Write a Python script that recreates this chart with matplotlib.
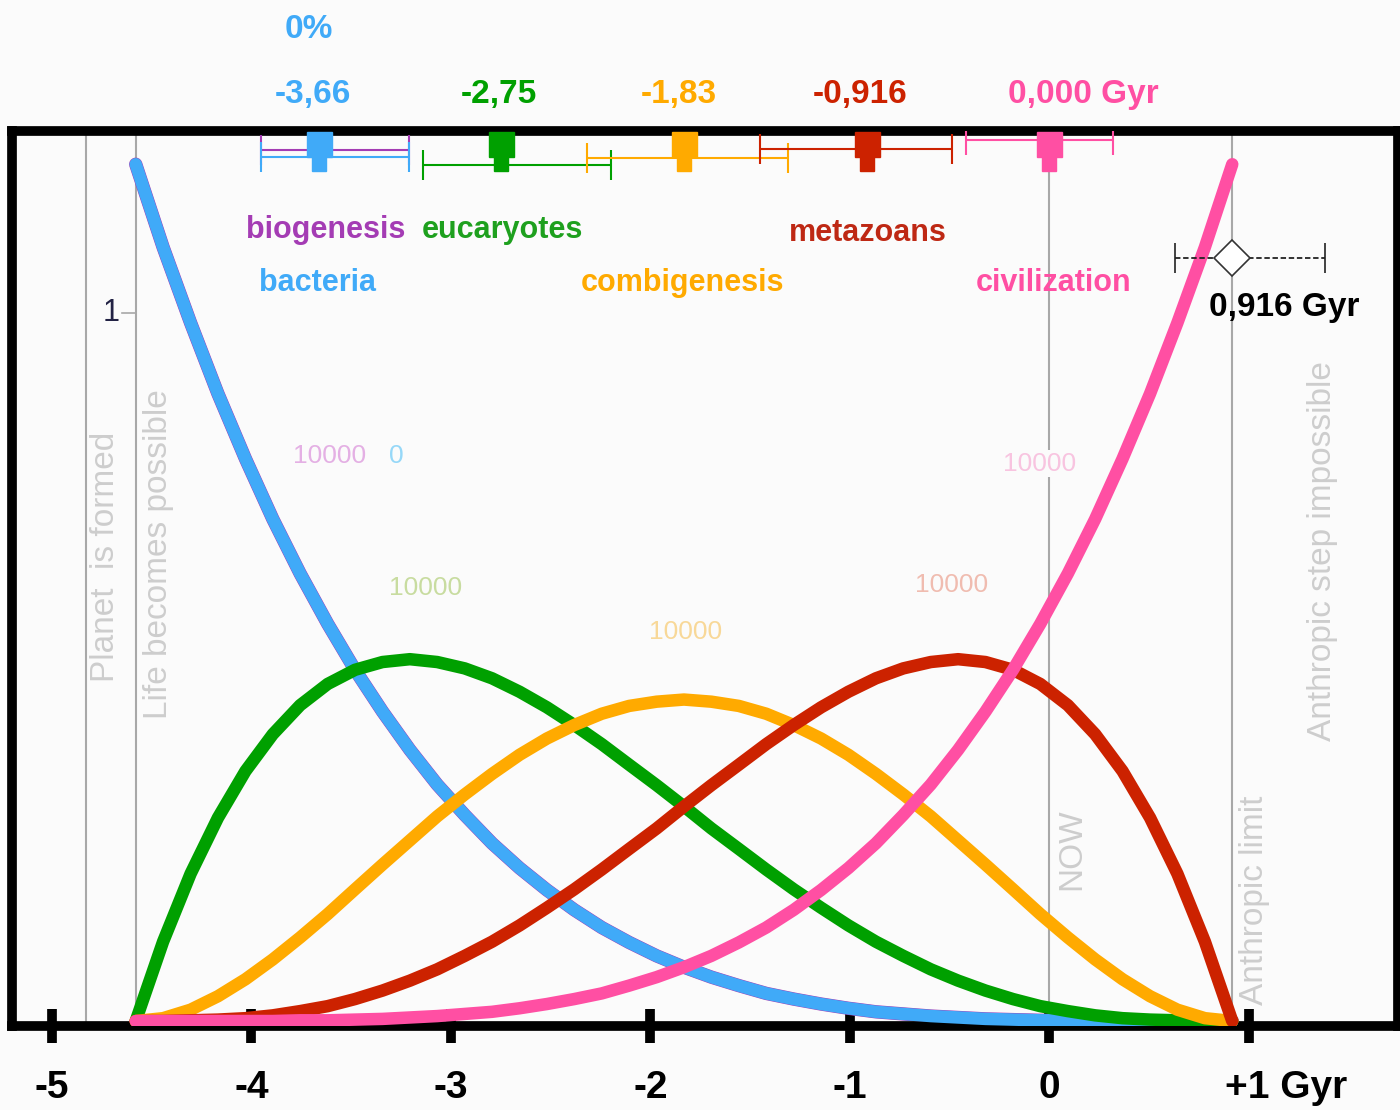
import numpy as np
import matplotlib.pyplot as plt
from matplotlib.transforms import ScaledTranslation

plt.rcParams['font.family'] = ['Liberation Sans', 'DejaVu Sans']

# time in Gyr relative to now
x_gyr = [-4.580, -4.443, -4.305, -4.168, -4.030, -3.893, -3.756, -3.618, -3.481, -3.343,
         -3.206, -3.069, -2.931, -2.794, -2.656, -2.519, -2.382, -2.244, -2.107, -1.969,
         -1.832, -1.695, -1.557, -1.420, -1.282, -1.145, -1.008, -0.870, -0.733, -0.595,
         -0.458, -0.321, -0.183, -0.046, 0.092, 0.229, 0.366, 0.504, 0.641, 0.779, 0.916]

# probability density of each hard step over time
bacteria = [1.210, 1.093, 0.986, 0.886, 0.794, 0.709, 0.632, 0.561, 0.496, 0.437,
            0.383, 0.334, 0.291, 0.251, 0.216, 0.185, 0.157, 0.132, 0.111, 0.092,
            0.076, 0.062, 0.050, 0.039, 0.031, 0.024, 0.018, 0.013, 0.010, 0.007,
            0.005, 0.003, 0.002, 0.001, 0.001, 0.000, 0.000, 0.000, 0.000, 0.000, 0.000]
eucaryotes = [0.000, 0.112, 0.208, 0.287, 0.353, 0.405, 0.446, 0.476, 0.496, 0.507,
              0.511, 0.507, 0.498, 0.484, 0.465, 0.443, 0.418, 0.391, 0.362, 0.333,
              0.303, 0.272, 0.243, 0.214, 0.186, 0.160, 0.135, 0.112, 0.092, 0.073,
              0.057, 0.043, 0.031, 0.021, 0.014, 0.008, 0.004, 0.002, 0.001, 0.000, 0.000]
combigenesis = [0.000, 0.004, 0.016, 0.035, 0.059, 0.087, 0.118, 0.151, 0.186, 0.221,
                0.255, 0.289, 0.320, 0.349, 0.376, 0.399, 0.418, 0.434, 0.445, 0.451,
                0.454, 0.451, 0.445, 0.434, 0.418, 0.399, 0.376, 0.349, 0.320, 0.289,
                0.255, 0.221, 0.186, 0.151, 0.118, 0.087, 0.059, 0.035, 0.016, 0.004, 0.000]
metazoans = [0.000, 0.000, 0.001, 0.002, 0.004, 0.008, 0.014, 0.021, 0.031, 0.043,
             0.057, 0.073, 0.092, 0.112, 0.135, 0.160, 0.186, 0.214, 0.243, 0.272,
             0.303, 0.333, 0.362, 0.391, 0.418, 0.443, 0.465, 0.484, 0.498, 0.507,
             0.511, 0.507, 0.496, 0.476, 0.446, 0.405, 0.353, 0.287, 0.208, 0.112, 0.000]
civilization = [0.000, 0.000, 0.000, 0.000, 0.000, 0.000, 0.001, 0.001, 0.002, 0.003,
                0.005, 0.007, 0.010, 0.013, 0.018, 0.024, 0.031, 0.039, 0.050, 0.062,
                0.076, 0.092, 0.111, 0.132, 0.157, 0.185, 0.216, 0.251, 0.291, 0.334,
                0.383, 0.437, 0.496, 0.561, 0.632, 0.709, 0.794, 0.886, 0.986, 1.093, 1.210]

# expected time of each step with its spread
step_names = ["bacteria", "eucaryotes", "combigenesis", "metazoans", "civilization"]
step_mean = [-3.66, -2.75, -1.83, -0.916, 0.000]
step_lo = [-3.95, -3.14, -2.32, -1.45, -0.42]
step_hi = [-3.21, -2.20, -1.31, -0.49, 0.32]
step_mean_text = ["-3,66", "-2,75", "-1,83", "-0,916", "0,000 Gyr"]
biogenesis_mean, biogenesis_lo, biogenesis_hi = -3.66, -3.95, -3.21

# end of the habitable window
limit_mean, limit_lo, limit_hi = 0.916, 0.63, 1.38

planet_formed = -4.83
life_possible = -4.58

xticks = [-5, -4, -3, -2, -1, 0, 1]
xtick_labels = ["-5", "-4", "-3", "-2", "-1", "0", "+1 Gyr"]

colors = ["#40aaf8", "#00a000", "#ffaa00", "#cc2200", "#ff4fa3"]
purple = "#a43cb4"
bg = "#fbfbfb"
guide = "#a8a8a8"
faint = "#cdcdcd"

fig = plt.figure(figsize=(14, 11.1), dpi=100, facecolor=bg)
ax = fig.add_axes([0.0086, 0.0757, 0.9900, 0.8063], facecolor=bg)
ax.set_xlim(-5.20, 1.747)
ax.set_ylim(-0.007, 1.257)

# vertical guide lines
for xv in [planet_formed, life_possible, 0.0, limit_mean]:
    ax.axvline(xv, color=guide, lw=1.5, zorder=1)

# step density curves
ax.plot(x_gyr, bacteria, color=purple, lw=9.6, solid_capstyle="round", zorder=2)
series = [bacteria, eucaryotes, combigenesis, metazoans, civilization]
for vals, c in zip(series, colors):
    ax.plot(x_gyr, vals, color=c, lw=9, solid_capstyle="round", solid_joinstyle="round", zorder=3)

# spread bars along the top
bar_rows = [1.220, 1.209, 1.219, 1.232, 1.244]
ax.errorbar(biogenesis_mean, 1.230, xerr=[[biogenesis_mean - biogenesis_lo], [biogenesis_hi - biogenesis_mean]],
            fmt="none", ecolor=purple, elinewidth=1.5, capsize=11, capthick=1.5, zorder=4)
for m, lo, hi, row, c in zip(step_mean, step_lo, step_hi, bar_rows, colors):
    ax.errorbar(m, row, xerr=[[m - lo], [hi - m]], fmt="none", ecolor=c,
                elinewidth=1.5, capsize=11, capthick=1.5, zorder=4)
    ax.plot(m, 1.238, marker="s", ms=18, color=c, mec=c, zorder=5)
    ax.plot(m, 1.211, marker="s", ms=9.5, color=c, mec=c, zorder=5)

eb = ax.errorbar(limit_mean, 1.078, xerr=[[limit_mean - limit_lo], [limit_hi - limit_mean]],
                 fmt="D", ms=18, mfc="white", mec="#333333", mew=1.2, ecolor="#222222",
                 elinewidth=1.3, capsize=11, capthick=1.3, zorder=6)
eb[2][0].set_linestyle((0, (3, 1.5)))

# mean values above the frame
label_x = [-3.69, -2.76, -1.86, -0.95, -0.21]
for lx, txt, c in zip(label_x, step_mean_text, colors):
    ax.text(lx, 1.308, txt, color=c, fontsize=24, fontweight="bold",
            ha="left" if "Gyr" in txt else "center", va="center", clip_on=False)
ax.text(-3.71, 1.400, "0%", color=colors[0], fontsize=24, fontweight="bold",
        ha="center", va="center", clip_on=False)

# step names
ax.text(-3.63, 1.117, "biogenesis", color=purple, fontsize=22, fontweight="bold", ha="center", va="center")
ax.text(-2.744, 1.117, "eucaryotes", color="#1ea01e", fontsize=22, fontweight="bold", ha="center", va="center")
ax.text(-0.91, 1.113, "metazoans", color="#be2814", fontsize=22, fontweight="bold", ha="center", va="center")
ax.text(-3.67, 1.042, "bacteria", color=colors[0], fontsize=22, fontweight="bold", ha="center", va="center")
ax.text(-1.84, 1.042, "combigenesis", color=colors[2], fontsize=22, fontweight="bold", ha="center", va="center")
ax.text(0.02, 1.042, "civilization", color=colors[4], fontsize=22, fontweight="bold", ha="center", va="center")
ax.text(1.175, 1.007, "0,916 Gyr", color="black", fontsize=24, fontweight="bold", ha="center", va="center")

# sample counts
ax.text(-3.607, 0.798, "10000", color="#e4b0e4", fontsize=19, ha="center", va="center")
ax.text(-3.276, 0.798, "0", color="#96d8f8", fontsize=19, ha="center", va="center")
ax.text(-3.125, 0.612, "10000", color="#c8dca0", fontsize=19, ha="center", va="center")
ax.text(-1.822, 0.549, "10000", color="#f8d898", fontsize=19, ha="center", va="center")
ax.text(-0.489, 0.616, "10000", color="#f0bcb0", fontsize=19, ha="center", va="center")
ax.text(-0.048, 0.787, "10000", color="#f8c4e0", fontsize=19, ha="center", va="center",
        bbox=dict(fc=bg, ec="none", pad=1))

# rotated guide captions
rot = dict(color=faint, fontsize=24, rotation=90, ha="center", va="center")
ax.text(-4.734, 0.655, "Planet  is formed", **rot)
ax.text(-4.468, 0.660, "Life becomes possible", **rot)
ax.text(1.366, 0.664, "Anthropic step impossible", **rot)
ax.text(0.113, 0.242, "NOW", **rot)
ax.text(1.03, 0.171, "Anthropic limit", **rot)

# single y tick at the start of the window
ax.plot([-4.65, life_possible], [1, 1], color=guide, lw=1.2, zorder=1)
ax.text(-4.66, 1.0, "1", color="#222244", fontsize=22, ha="right", va="center")

ax.set_yticks([])
ax.set_xticks(xticks)
ax.set_xticklabels(xtick_labels, fontsize=28, fontweight="bold")
ax.tick_params(axis="x", direction="inout", length=24, width=7, pad=20, color="black")

# keep "+1" under its tick, unit running to the right
last = ax.get_xticklabels()[-1]
last.set_ha("left")
last.set_transform(last.get_transform() + ScaledTranslation(-0.24, 0, fig.dpi_scale_trans))

for s in ax.spines.values():
    s.set_linewidth(7)
    s.set_color("black")

fig.savefig("out.png", dpi=100, facecolor=bg)
